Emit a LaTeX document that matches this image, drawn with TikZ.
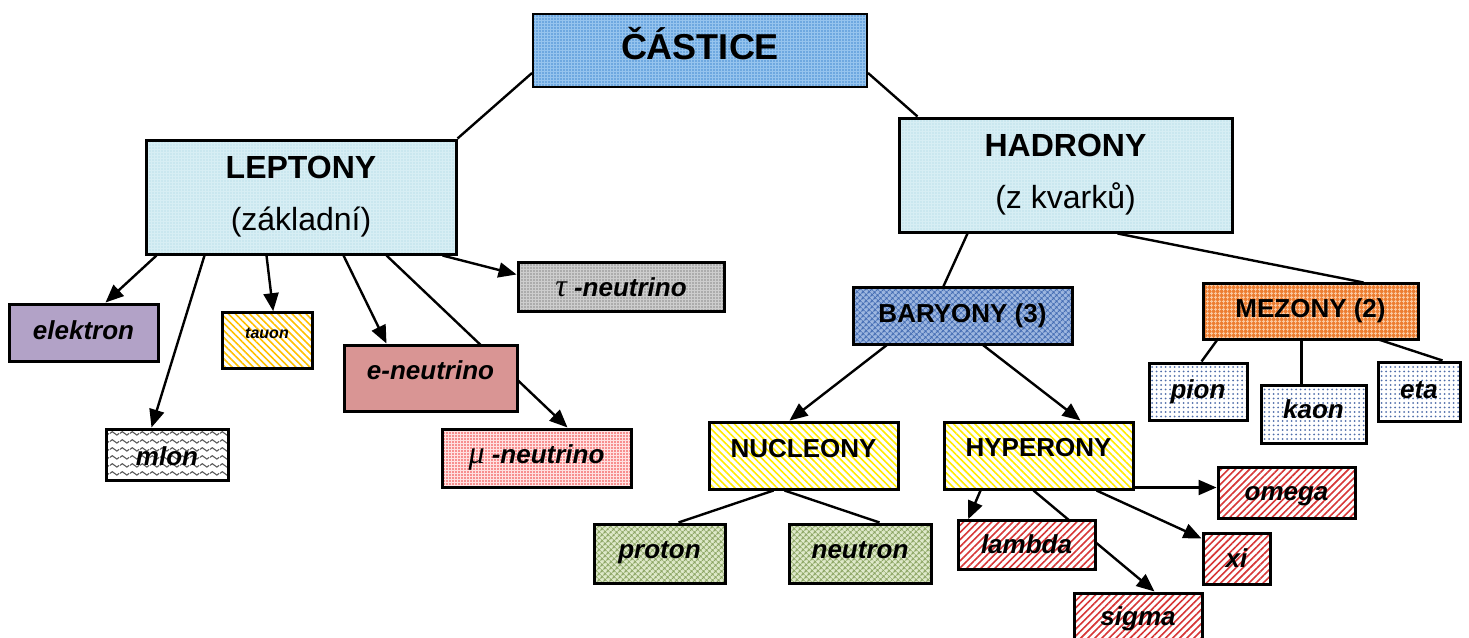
\documentclass[tikz,border=0pt]{standalone}
\usepackage{fontspec}
\setmainfont{Liberation Sans}
\newfontfamily\greekfont{Liberation Serif}
\usepackage{tikz}
\usetikzlibrary{arrows.meta}
\usetikzlibrary{patterns.meta}
\usetikzlibrary{backgrounds}

\definecolor{castblue}{RGB}{150,196,238}
\definecolor{castdark}{RGB}{70,140,210}
\definecolor{cyanbase}{RGB}{215,238,244}
\definecolor{cyandark}{RGB}{160,210,225}
\definecolor{elekcol}{RGB}{178,162,199}
\definecolor{wavegrey}{RGB}{90,90,90}
\definecolor{tauoncol}{RGB}{255,192,0}
\definecolor{enucol}{RGB}{217,149,148}
\definecolor{greybase}{RGB}{205,205,205}
\definecolor{greydark}{RGB}{140,140,140}
\definecolor{pinkbase}{RGB}{255,225,225}
\definecolor{reddot}{RGB}{240,60,60}
\definecolor{barybase}{RGB}{160,185,225}
\definecolor{barydark}{RGB}{70,110,180}
\definecolor{orangebase}{RGB}{237,125,49}
\definecolor{orangelight}{RGB}{250,200,160}
\definecolor{yellowline}{RGB}{255,235,0}
\definecolor{hatchred}{RGB}{215,55,55}
\definecolor{dotblue}{RGB}{80,110,170}
\definecolor{greenbase}{RGB}{225,235,205}
\definecolor{greendark}{RGB}{140,165,100}

\pgfdeclarepattern{
  name=waves, type=uncolored,
  bottom left={\pgfpoint{0pt}{0pt}}, top right={\pgfpoint{10pt}{8pt}},
  tile size={\pgfpoint{10pt}{8pt}},
  code={
    \pgfsetlinewidth{1.2pt}
    \pgfpathmoveto{\pgfpoint{0pt}{4pt}}
    \pgfpathcurveto{\pgfpoint{1.7pt}{6.5pt}}{\pgfpoint{3.3pt}{6.5pt}}{\pgfpoint{5pt}{4pt}}
    \pgfpathcurveto{\pgfpoint{6.7pt}{1.5pt}}{\pgfpoint{8.3pt}{1.5pt}}{\pgfpoint{10pt}{4pt}}
    \pgfusepath{stroke}
  }
}

\newcommand{\grk}[1]{{\greekfont\mdseries\itshape\fontsize{32}{30}\selectfont #1}}

\tikzset{
  box/.style={draw, line width=3pt, inner xsep=0pt, inner ysep=0pt, anchor=base},
  headbox/.style={box, font=\bfseries\fontsize{26}{30}\selectfont},
  leafbox/.style={box, font=\bfseries\itshape\fontsize{26}{30}\selectfont},
  conn/.style={line width=2.4pt},
  >={Triangle[length=18pt,width=15pt]},
  % fills
  castfill/.style={preaction={fill=castblue}, pattern={Dots[distance=3pt,radius=0.8pt]}, pattern color=castdark},
  cyanfill/.style={preaction={fill=cyanbase}, pattern={Dots[distance=3pt,radius=0.7pt]}, pattern color=cyandark},
  yellowhatch/.style={preaction={fill=white}, pattern={Lines[angle=-45,distance=5pt,line width=1.6pt]}, pattern color=yellowline},
  redhatch/.style={preaction={fill=white}, pattern={Lines[angle=45,distance=5pt,line width=1.6pt]}, pattern color=hatchred},
  bluedots/.style={preaction={fill=white}, pattern={Dots[distance=4.5pt,radius=1pt]}, pattern color=dotblue},
  greenfill/.style={preaction={fill=greenbase}, pattern={Hatch[angle=45,distance=4pt,line width=1.2pt]}, pattern color=greendark},
}

\begin{document}
\begin{tikzpicture}[x=1pt,y=-1pt]
  \useasboundingbox (0,0) rectangle (1469,637);

  % top
  \node[box, castfill, line width=2pt, font=\bfseries\fontsize{36}{40}\selectfont,
        minimum width=334pt, text height=45pt, text depth=28pt] (castice) at (700,59) {ČÁSTICE};

  \node[box, cyanfill, anchor=center, align=center, font=\fontsize{32}{52}\selectfont,
        minimum width=310pt, minimum height=114pt] (leptony) at (301,197) {\textbf{LEPTONY}\\(základní)};
  \node[box, cyanfill, anchor=center, align=center, font=\fontsize{32}{52}\selectfont,
        minimum width=333pt, minimum height=114pt] (hadrony) at (1065.5,175) {\textbf{HADRONY}\\(z kvarků)};

  % leptony
  \node[leafbox, fill=elekcol, minimum width=149pt, text height=35pt, text depth=22pt] (elektron) at (83.5,339) {elektron};
  \node[leafbox, preaction={fill=white}, pattern=waves, pattern color=wavegrey,
        minimum width=122pt, text height=36pt, text depth=15pt] (mlon) at (167,465) {mlon};
  \node[box, preaction={fill=white}, pattern={Lines[angle=-45,distance=5pt,line width=1.6pt]}, pattern color=tauoncol,
        font=\bfseries\itshape\fontsize{16}{18}\selectfont,
        minimum width=90pt, text height=26pt, text depth=30pt] (tauon) at (267,338) {tauon};
  \node[leafbox, fill=enucol, minimum width=173pt, text height=34pt, text depth=32pt] (eneutrino) at (430.5,379) {e-neutrino};
  \node[leafbox, preaction={fill=greybase}, pattern={Dots[distance=3pt,radius=0.8pt]}, pattern color=greydark,
        minimum width=206pt, text height=34pt, text depth=15pt] (tauneutrino) at (621,296) {\grk{τ} -neutrino};
  \node[leafbox, preaction={fill=pinkbase}, pattern={Dots[distance=3pt,radius=0.8pt]}, pattern color=reddot,
        minimum width=189pt, text height=34pt, text depth=24pt] (muneutrino) at (536.5,463) {\grk{μ} -neutrino};

  % hadrony
  \node[headbox, preaction={fill=barybase}, pattern={Hatch[angle=45,distance=4pt,line width=1.2pt]}, pattern color=barydark,
        minimum width=219pt, text height=35pt, text depth=22pt] (baryony) at (962.5,322) {BARYONY (3)};
  \node[headbox, preaction={fill=orangebase}, pattern={Hatch[angle=0,distance=4pt,line width=1pt]}, pattern color=orangelight,
        minimum width=215pt, text height=34pt, text depth=22pt] (mezony) at (1310.5,317) {MEZONY (2)};

  \node[leafbox, bluedots, minimum width=98pt, text height=35pt, text depth=22pt] (pion) at (1198,398) {pion};
  \node[leafbox, bluedots, minimum width=105pt, text height=33pt, text depth=25pt] (kaon) at (1313.5,418) {kaon};
  \node[leafbox, bluedots, minimum width=82pt, text height=36pt, text depth=23pt] (eta) at (1419,398) {eta};

  \node[headbox, yellowhatch, minimum width=189pt, text height=35pt, text depth=32pt] (nucleony) at (803.5,457) {NUCLEONY};
  \node[headbox, yellowhatch, minimum width=189pt, text height=34pt, text depth=33pt] (hyperony) at (1038.5,456) {HYPERONY};

  \node[leafbox, greenfill, minimum width=131pt, text height=34pt, text depth=25pt] (proton) at (659.5,558) {proton};
  \node[leafbox, greenfill, minimum width=142pt, text height=34pt, text depth=25pt] (neutron) at (860,558) {neutron};

  \node[leafbox, redhatch, minimum width=137pt, text height=33pt, text depth=16pt] (lambda) at (1026.5,553) {lambda};
  \node[leafbox, redhatch, minimum width=128pt, text height=32pt, text depth=18pt] (sigma) at (1138,625) {sigma};
  \node[leafbox, redhatch, minimum width=137pt, text height=33pt, text depth=18pt] (omega) at (1286.5,500) {omega};
  \node[leafbox, redhatch, minimum width=67pt, text height=34pt, text depth=17pt] (xi) at (1236.5,567) {xi};

  \begin{pgfonlayer}{background}
  \path[conn] ([yshift=15pt]castice.south west) edge (leptony.north east)
              ([yshift=15pt]castice.south east) edge ([xshift=20pt]hadrony.north west);

  \path[conn,->] ([xshift=12pt]leptony.south west) edge ([xshift=98pt]elektron.north west)
                 ([xshift=60pt]leptony.south west) edge ([xshift=47pt]mlon.north west)
                 ([xshift=122pt]leptony.south west) edge ([xshift=52pt]tauon.north west)
                 ([xshift=199pt]leptony.south west) edge ([xshift=44pt]eneutrino.north west)
                 ([xshift=242pt]leptony.south west) edge ([xshift=127pt]muneutrino.north west)
                 ([xshift=298pt]leptony.south west) edge ([yshift=12pt]tauneutrino.west);

  \path[conn] ([xshift=70pt]hadrony.south west) edge ([xshift=91pt]baryony.north west)
              ([xshift=220pt]hadrony.south west) edge ([xshift=161pt]mezony.north west);

  \path[conn,->] ([xshift=35pt]baryony.south west) edge ([xshift=82pt]nucleony.north west)
                 ([xshift=130pt]baryony.south west) edge ([xshift=138pt]hyperony.north west);

  \path[conn] ([xshift=15pt]mezony.south west) edge ([xshift=54pt]pion.north west)
              ([xshift=99pt]mezony.south west) edge ([xshift=42pt]kaon.north west)
              ([xshift=176pt]mezony.south west) edge ([xshift=66pt]eta.north west);

  \path[conn] ([xshift=66pt]nucleony.south west) edge ([xshift=86pt]proton.north west)
              ([xshift=77pt]nucleony.south west) edge ([xshift=92pt]neutron.north west);

  \path[conn,->] ([xshift=38pt]hyperony.south west) edge ([xshift=11pt]lambda.north west)
                 ([xshift=91pt]hyperony.south west) edge ([xshift=82pt]sigma.north west)
                 ([yshift=3pt]hyperony.south east) edge ([yshift=3pt]hyperony.south east -| omega.west)
                 ([xshift=154pt]hyperony.south west) edge ([yshift=-7pt]xi.north west);
  \end{pgfonlayer}

\end{tikzpicture}
\end{document}
